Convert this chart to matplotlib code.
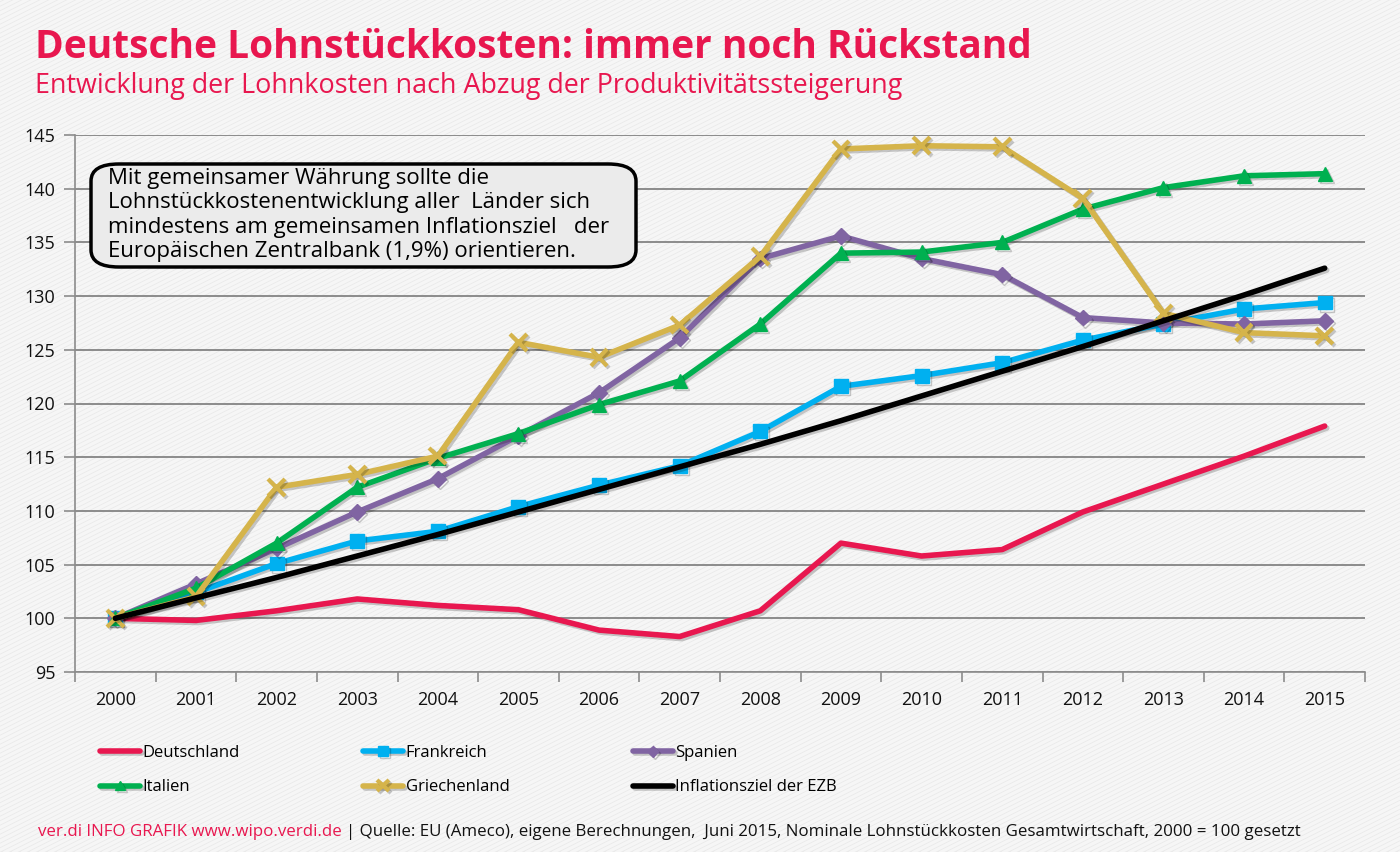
import numpy as np
import matplotlib
matplotlib.use("Agg")
import matplotlib.pyplot as plt
import matplotlib.patheffects as pe
from matplotlib.lines import Line2D
from matplotlib.patches import FancyBboxPatch

plt.rcParams["font.family"] = ["Open Sans", "DejaVu Sans"]

years = [str(y) for y in range(2000, 2016)]

deutschland = [100.0, 99.8, 100.7, 101.8, 101.2, 100.8, 98.9, 98.3, 100.7, 107.0,
               105.8, 106.4, 109.9, 112.5, 115.1, 117.9]
frankreich = [100.0, 102.4, 105.1, 107.2, 108.1, 110.4, 112.4, 114.2, 117.4, 121.6,
              122.6, 123.8, 125.9, 127.4, 128.8, 129.4]
spanien = [100.0, 103.2, 106.5, 109.9, 113.0, 117.0, 121.0, 126.1, 133.5, 135.6,
           133.5, 132.0, 128.0, 127.5, 127.4, 127.7]
italien = [100.0, 102.8, 107.0, 112.2, 114.9, 117.2, 119.9, 122.1, 127.4, 134.0,
           134.1, 135.0, 138.1, 140.1, 141.2, 141.4]
griechenland = [100.0, 102.0, 112.2, 113.4, 115.1, 125.7, 124.3, 127.3, 133.7, 143.7,
                144.0, 143.9, 139.1, 128.4, 126.6, 126.3]
ezb = [100.0, 101.9, 103.8, 105.8, 107.8, 109.9, 112.0, 114.1, 116.2, 118.4,
       120.7, 123.0, 125.3, 127.7, 130.1, 132.6]

series = [
    ("Deutschland", deutschland, "#E8174F", None),
    ("Frankreich", frankreich, "#00B0F0", "s"),
    ("Spanien", spanien, "#8064A2", "D"),
    ("Italien", italien, "#00B050", "^"),
    ("Griechenland", griechenland, "#D5B44B", "x"),
    ("Inflationsziel der EZB", ezb, "#000000", None),
]

red = "#E8174F"

fig = plt.figure(figsize=(14, 8.52), dpi=100, facecolor="#ebebeb")

# striped background
W, H = 1400, 852
for x0 in np.arange(-2200, 1500, 9):
    fig.add_artist(Line2D([x0 / W, (x0 + 2400) / W], [0, 2400 * 0.5 / H],
                          transform=fig.transFigure, color="#f6f6f6", lw=2.2,
                          zorder=-10))

ax = fig.add_axes([75 / W, 1 - 672 / H, 1290 / W, 537 / H])
ax.set_facecolor("none")

x = np.arange(len(years))
for name, vals, col, mk in series:
    kw = dict(color=col, lw=4, label=name, solid_capstyle="round",
              path_effects=[pe.SimpleLineShadow(offset=(1.5, -1.5), alpha=0.2),
                            pe.Normal()])
    if mk == "x":
        ax.plot(x, vals, marker="x", markersize=12, markeredgewidth=3, **kw)
    elif mk is not None:
        ax.plot(x, vals, marker=mk, markersize=10 if mk != "D" else 8, **kw)
    else:
        ax.plot(x, vals, **kw)

ax.set_xlim(-0.5, 15.5)
ax.set_ylim(95, 145)
ax.set_yticks(range(95, 146, 5))
ax.set_xticks(x)
ax.set_xticklabels(years)
ax.set_xticks(np.arange(-0.5, 16, 1), minor=True)
ax.tick_params(axis="x", which="major", length=0, labelsize=13, pad=14, colors="#111111")
ax.tick_params(axis="x", which="minor", length=7, width=1.2, color="#8c8c8c")
ax.tick_params(axis="y", length=8, width=1.2, color="#8c8c8c", labelsize=13,
               pad=6, labelcolor="#111111")
ax.yaxis.grid(True, color="#8c8c8c", lw=1.4)
ax.set_axisbelow(True)
for s in ["top", "right"]:
    ax.spines[s].set_visible(False)
for s in ["left", "bottom"]:
    ax.spines[s].set_color("#8c8c8c")
    ax.spines[s].set_linewidth(1.2)

# title
fig.text(35 / W, 1 - 47 / H, "Deutsche Lohnstückkosten: immer noch Rückstand",
         color=red, fontsize=28, fontweight="bold", va="center", ha="left")
fig.text(35 / W, 1 - 86 / H,
         "Entwicklung der Lohnkosten nach Abzug der Produktivitätssteigerung",
         color=red, fontsize=19.4, va="center", ha="left")

# note box
box = FancyBboxPatch((91 / W, 1 - 267 / H), 545 / W, 103 / H,
                     boxstyle="round,pad=0,rounding_size=0.02",
                     transform=fig.transFigure, facecolor="#ebebeb",
                     edgecolor="black", lw=2.5, zorder=5)
fig.add_artist(box)
fig.text(108 / W, 1 - 215 / H,
         "Mit gemeinsamer Währung sollte die\n"
         "Lohnstückkostenentwicklung aller  Länder sich\n"
         "mindestens am gemeinsamen Inflationsziel   der\n"
         "Europäischen Zentralbank (1,9%) orientieren.",
         fontsize=16, va="center", ha="left", linespacing=1.2, zorder=6)

# legend
handles, labels = ax.get_legend_handles_labels()
order = [0, 3, 1, 4, 2, 5]
leg = fig.legend([handles[i] for i in order], [labels[i] for i in order],
                 loc="upper left", bbox_to_anchor=(85 / W, 1 - 730 / H), ncol=3,
                 frameon=False, fontsize=12, handlelength=2.4, handletextpad=0.15,
                 columnspacing=7.4, labelspacing=1.1, markerscale=0.7)

# footer
t1 = fig.text(38 / W, 1 - 832 / H, "ver.di INFO GRAFIK www.wipo.verdi.de", color=red,
              fontsize=12.15, va="center", ha="left")
fig.canvas.draw()
bb = t1.get_window_extent()
fig.text(bb.x1 / W + 4 / W, 1 - 832 / H,
         "| Quelle: EU (Ameco), eigene Berechnungen,  Juni 2015, Nominale "
         "Lohnstückkosten Gesamtwirtschaft, 2000 = 100 gesetzt",
         color="#111111", fontsize=12.15, va="center", ha="left")

fig.savefig("out.png", dpi=100, facecolor=fig.get_facecolor())
